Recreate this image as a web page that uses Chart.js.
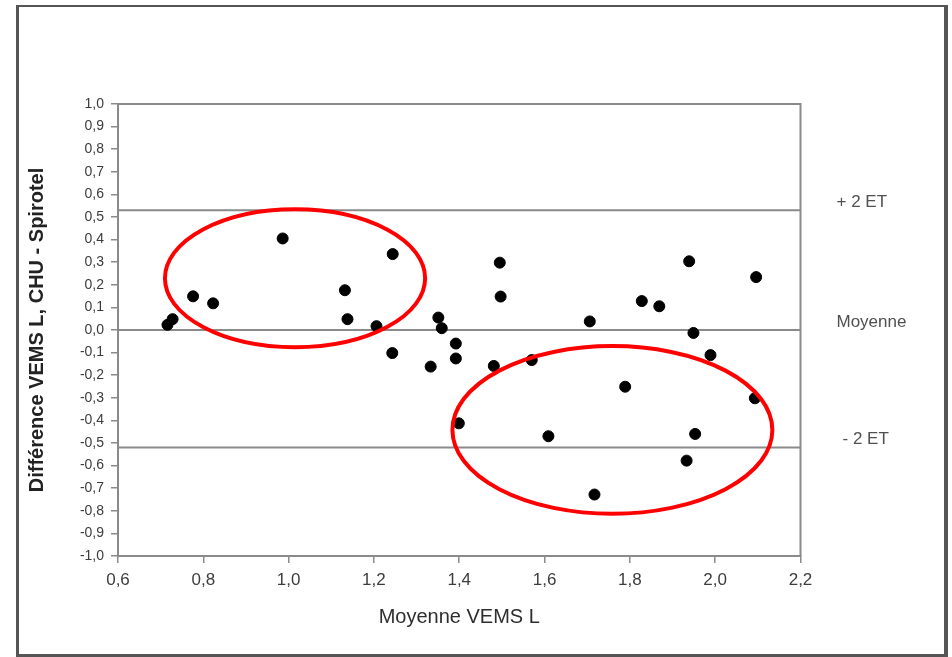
<!DOCTYPE html>
<html>
<head>
<meta charset="utf-8">
<script src="https://cdn.jsdelivr.net/npm/chart.js@4/dist/chart.umd.min.js"></script>
<style>
html,body{margin:0;padding:0;background:#fff;}
#frame{position:absolute;left:16px;top:5px;width:932px;height:652px;box-sizing:border-box;
  border-style:solid;border-color:#555;border-width:2px 4px 3px 3px;}
#c{position:absolute;left:0;top:0;}
</style>
</head>
<body>
<div id="frame"></div>
<canvas id="c" width="952" height="657"></canvas>
<script>
// Bland-Altman data: mean VEMS (L) vs difference CHU - Spirotel (L)
const meanVEMS = [0.716,0.728,0.776,0.823,0.986,1.132,1.138,1.206,1.244,1.243,
  1.333,1.351,1.359,1.392,1.392,1.399,1.481,1.495,1.497,1.570,
  1.609,1.706,1.717,1.789,1.828,1.869,1.933,1.939,1.949,1.953,
  1.989,2.093,2.096];
const diffVEMS = [0.023,0.048,0.149,0.118,0.405,0.176,0.048,0.017,0.336,-0.102,
  -0.162,0.055,0.008,-0.060,-0.126,-0.413,-0.159,0.298,0.148,-0.133,
  -0.470,0.038,-0.728,-0.251,0.128,0.105,-0.578,0.304,-0.013,-0.460,
  -0.111,-0.302,0.234];
// Reference lines: +2 ET, Moyenne, -2 ET
const refLabels = ['+ 2 ET', 'Moyenne', '- 2 ET'];
const refValues = [0.53, 0.0, -0.52];
const xRange = [0.6, 2.2];
const yRange = [-1.0, 1.0];
// Highlight ellipses (data units): centre x, centre y, radius x, radius y
const ellipseCx = [1.015, 1.759];
const ellipseCy = [0.229, -0.442];
const ellipseRx = [0.305, 0.375];
const ellipseRy = [0.305, 0.371];

const FONT = '"Liberation Sans", Arial, sans-serif';
const fmt = v => { let s = (Math.round(v * 10) / 10).toFixed(1).replace('.', ','); return s === '-0,0' ? '0,0' : s; };

const points = meanVEMS.map((x, i) => ({x, y: diffVEMS[i]}));
const refSets = refValues.map((v, i) => ({
  type: 'line', label: refLabels[i],
  data: [{x: xRange[0], y: v}, {x: xRange[1], y: v}],
  borderColor: '#8a8a8a', borderWidth: 2, pointRadius: 0, fill: false, order: 2
}));

const decor = {
  id: 'decor',
  beforeDatasetsDraw(chart) {
    const {ctx, chartArea: a} = chart;
    ctx.save();
    ctx.strokeStyle = '#8a8a8a';
    ctx.lineWidth = 2;
    ctx.beginPath();
    ctx.moveTo(a.left, a.top); ctx.lineTo(a.right, a.top); ctx.lineTo(a.right, a.bottom);
    ctx.stroke();
    ctx.restore();
  },
  afterDatasetsDraw(chart) {
    const {ctx, scales: {x, y}} = chart;
    ctx.save();
    ctx.strokeStyle = '#ff0000';
    ctx.lineWidth = 4;
    for (let i = 0; i < ellipseCx.length; i++) {
      const cx = x.getPixelForValue(ellipseCx[i]);
      const cy = y.getPixelForValue(ellipseCy[i]);
      const rx = Math.abs(x.getPixelForValue(ellipseCx[i] + ellipseRx[i]) - cx);
      const ry = Math.abs(y.getPixelForValue(ellipseCy[i] + ellipseRy[i]) - cy);
      ctx.beginPath();
      ctx.ellipse(cx, cy, rx, ry, 0, 0, Math.PI * 2);
      ctx.stroke();
    }
    ctx.restore();
  },
  afterDraw(chart) {
    const {ctx, chartArea: a, scales: {y}} = chart;
    ctx.save();
    ctx.fillStyle = '#505050';
    ctx.font = '17px ' + FONT;
    ctx.textAlign = 'left';
    ctx.textBaseline = 'middle';
    const dx = [36, 36, 42];
    refValues.forEach((v, i) => {
      ctx.fillText(refLabels[i], a.right + dx[i], y.getPixelForValue(v) - 8);
    });
    ctx.restore();
  }
};

new Chart(document.getElementById('c'), {
  type: 'scatter',
  data: {
    datasets: [{
      label: 'Différence',
      data: points,
      backgroundColor: '#000', borderColor: '#000',
      pointRadius: 5.5, pointHoverRadius: 5.5, order: 0
    }, ...refSets]
  },
  options: {
    responsive: false, animation: false,
    layout: {padding: {top: 104, right: 151.5, left: 0, bottom: 0}},
    plugins: {legend: {display: false}, tooltip: {enabled: false}},
    scales: {
      x: {
        type: 'linear', min: xRange[0], max: xRange[1],
        afterFit(s) { s.height = 101; },
        ticks: {stepSize: 0.2, autoSkip: false, maxRotation: 0, padding: 7,
          color: '#3c3c3c', font: {family: FONT, size: 17}, callback: v => fmt(v)},
        grid: {drawOnChartArea: false, drawTicks: true, tickLength: 7, color: '#8a8a8a', lineWidth: 1.5},
        border: {display: true, color: '#8a8a8a', width: 2},
        title: {display: true, text: 'Moyenne VEMS L', color: '#2e2e2e',
          font: {family: FONT, size: 20}, padding: {top: 0, bottom: 28}}
      },
      y: {
        type: 'linear', min: yRange[0], max: yRange[1],
        afterFit(s) { s.width = 118; },
        ticks: {stepSize: 0.1, autoSkip: false, padding: 7,
          color: '#3c3c3c', font: {family: FONT, size: 14}, callback: v => fmt(v)},
        grid: {drawOnChartArea: false, drawTicks: true, tickLength: 7, color: '#8a8a8a', lineWidth: 1.5},
        border: {display: true, color: '#8a8a8a', width: 2},
        title: {display: true, text: 'Différence VEMS L, CHU - Spirotel', color: '#222',
          font: {family: FONT, size: 20, weight: 'bold'}, padding: {top: 25, bottom: 0}}
      }
    }
  },
  plugins: [decor]
});
</script>
</body>
</html>
